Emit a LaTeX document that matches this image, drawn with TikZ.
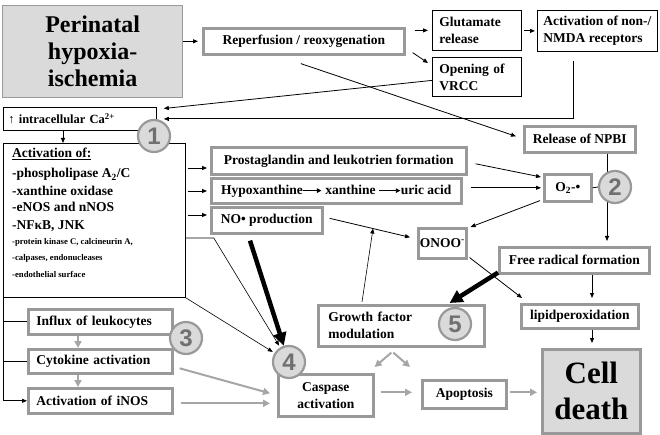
\documentclass[tikz,border=0pt]{standalone}
\usepackage{fontspec}
\setmainfont{Liberation Serif}
\newfontfamily\numfont{Liberation Sans}
\usetikzlibrary{arrows.meta,calc}
\definecolor{bgray}{HTML}{999999}
\definecolor{fgray}{HTML}{DADADA}
\definecolor{agray}{HTML}{A6A6A6}
\definecolor{ngray}{HTML}{707070}
\newcommand{\inarr}[1]{\tikz[x=1pt,y=1pt,baseline=-0.55ex]\draw[-{Triangle[length=4.5pt,width=4.5pt]},line width=0.9pt] (0,0) -- (#1,0);}
\begin{document}
\begin{tikzpicture}[x=1pt,y=-1pt,
  every node/.style={font=\bfseries\fontsize{13.5}{17}\selectfont, inner sep=0pt},
  thinbox/.style={draw=black, line width=0.8pt, fill=white, anchor=north west},
  gbox/.style={draw=bgray, line width=2.6pt, fill=white, anchor=north west},
  numc/.style={circle, draw=bgray, line width=2.2pt, fill=fgray, minimum size=32pt,
    font=\numfont\bfseries\fontsize{24}{24}\selectfont, text=ngray},
  arr/.style={-{Triangle[length=5pt,width=4pt]}, line width=0.8pt},
  garr/.style={-{Triangle[length=7pt,width=7pt]}, line width=2pt, agray},
  bigarr/.style={-{Triangle[length=13pt,width=13pt]}, line width=4.5pt},
  small/.style={font=\bfseries\fontsize{8.7}{10}\selectfont},
]
\useasboundingbox (0,0) rectangle (660,435);
\fill[white] (0,0) rectangle (660,435);

% ---- boxes ----
\node[draw=bgray, line width=1.2pt, fill=fgray, minimum width=180pt, minimum height=92pt,
  anchor=north west, align=center, font=\bfseries\fontsize{24}{27}\selectfont]
  (peri) at (2,5) {Perinatal\\hypoxia-\\ischemia};
\node[gbox, minimum width=201pt, minimum height=26pt] (rep) at (202,27) {Reperfusion / reoxygenation};
\node[thinbox, minimum height=40pt, text width=75pt, inner xsep=7pt, align=left] (glu) at (432,10) {Glutamate\\release};
\node[thinbox, minimum width=120pt, minimum height=41pt, align=left] (act) at (537,10) {Activation of non-/\\NMDA receptors};
\node[thinbox, minimum height=39pt, text width=75pt, inner xsep=7pt, align=left] (vrcc) at (432,57) {Opening of\\VRCC};
\node[thinbox, minimum height=23pt, text width=143pt, inner xsep=5pt, align=left,
  font=\bfseries\fontsize{12.5}{15}\selectfont] (ca) at (3,107) {↑ intracellular Ca\textsuperscript{2+}};

\node[thinbox, minimum width=182pt, minimum height=154pt] (actof) at (3,143) {};
\node[anchor=base west] (l1) at (12,158) {\underline{Activation of:}};
\node[anchor=base west] (l2) at (12,178) {-phospholipase A\textsubscript{2}/C};
\node[anchor=base west] (l3) at (12,196) {-xanthine oxidase};
\node[anchor=base west] (l4) at (12,212) {-eNOS and nNOS};
\node[anchor=base west] (l5) at (12,230) {-NFκB, JNK};
\node[anchor=base west, small] (l6) at (12,245) {-protein kinase C, calcineurin A,};
\node[anchor=base west, small] (l7) at (12,260) {-calpases, endonucleases};
\node[anchor=base west, small] (l8) at (12,277) {-endothelial surface};

\node[gbox, minimum width=255pt, minimum height=27pt] (pros) at (210,146) {Prostaglandin and leukotrien formation};
\node[gbox, minimum width=250pt, minimum height=25pt] (hypo) at (210,177) {Hypoxanthine\inarr{18} xanthine \inarr{21}uric acid};
\node[gbox, minimum width=111pt, minimum height=26pt] (no) at (210,206) {NO• production};
\node[gbox, minimum width=111pt, minimum height=26pt] (npbi) at (523,125) {Release of NPBI};
\node[gbox, minimum width=47pt, minimum height=27pt] (o2) at (543,173) {O\textsubscript{2}-•};
\node[gbox, minimum width=48pt, minimum height=30pt] (onoo) at (417,227) {ONOO\textsuperscript{-}};
\node[gbox, minimum width=150pt, minimum height=26pt] (free) at (498,246) {Free radical formation};
\node[gbox, minimum width=117pt, minimum height=24pt] (lipid) at (520,303) {lipidperoxidation};
\node[gbox, fill=fgray, minimum width=98pt, minimum height=84pt, align=center,
  font=\bfseries\fontsize{31}{36}\selectfont] (cell) at (541,348) {Cell\\death};
\node[gbox, minimum height=41pt, text width=146pt, inner xsep=10pt, align=left] (growth) at (317,304) {Growth factor\\modulation};
\node[gbox, minimum width=95pt, minimum height=42pt, align=center] (casp) at (277,373) {Caspase\\activation};
\node[gbox, minimum width=84pt, minimum height=28pt] (apop) at (421,379) {Apoptosis};
\node[gbox, minimum height=25pt, text width=128pt, inner xsep=8pt, align=left] (influx) at (27,308) {Influx of leukocytes};
\node[gbox, minimum height=24pt, text width=128pt, inner xsep=8pt, align=left] (cyto) at (27,348) {Cytokine activation};
\node[gbox, minimum height=25pt, text width=128pt, inner xsep=8pt, align=left] (inos) at (27,387) {Activation of iNOS};

% ---- thin black connectors ----
\draw[arr, shorten >=4pt] (peri.east |- rep.west) -- (rep.west);
\draw[arr, shorten <=9pt, shorten >=4pt] (rep.east |- glu.west) -- (glu.west);
\draw[arr] ($(rep.south east)+(7,-3)$) -- ($(vrcc.north west)+(-4,6)$);
\draw[arr, shorten <=2pt, shorten >=2pt] (glu.east |- act.west) -- (act.west);
\draw[arr] ($(vrcc.west)+(0,3.5)$) -- ($(ca.north east)+(7,1.5)$);
\draw[arr] ($(act.south west)+(36,9)$) |- ($(ca.east)+(7,0)$);
\draw[arr] ($(rep.south)+(-3,8)$) -- ($(npbi.west)+(-7,-3)$);
\draw[arr] ($(ca.south west)+(60,0)$) -- ($(actof.north west)+(60,0)$);

\draw[arr, shorten <=2pt, shorten >=3pt] (actof.east |- 0,168) -- (pros.west |- 0,168);
\draw[arr, shorten <=2pt, shorten >=3pt] (actof.east |- 0,191) -- (hypo.west |- 0,191);
\draw[arr, shorten <=2pt, shorten >=3pt] (actof.east |- 0,215) -- (no.west |- 0,215);

\coordinate (noS) at ($(no.east)+(6,-2)$);
\coordinate (noE) at ($(onoo.west)+(-7,-6)$);
\draw[arr] (noS) -- (noE);
\coordinate (gtip) at ($(noS)!0.54!(noE)$);
\draw[arr, line width=0.6pt] ($(growth.north west)+(45,-2)$) -- (gtip);

\draw[arr] ($(pros.east)+(8,3)$) -- ($(o2.north west)+(-2,4)$);
\draw[arr, shorten <=8pt, shorten >=2pt] (hypo.east |- o2.west) -- (o2.west);
\draw[arr] ($(o2.south west)+(-3,-2)$) -- ($(onoo.north east)+(3,0)$);
\draw[arr] ($(npbi.south west)+(84,0)$) -- ($(free.north west)+(109,-5)$);
\draw[arr] ($(onoo.south east)+(2,-2)$) -- ($(lipid.north west)+(2,-5)$);
\draw[arr] ($(free.south west)+(94,0)$) -- ($(lipid.north west)+(72,-5)$);
\draw[arr] ($(lipid.south west)+(72,0)$) -- ($(cell.north west)+(51,-5)$);

\draw[arr] (actof.south west) |- (inos.west);
\draw[line width=0.8pt] (actof.south west |- influx.west) -- (influx.west);
\draw[line width=0.8pt] (actof.south west |- cyto.west) -- (cyto.west);

% ---- gray connectors ----
\draw[garr] ($(influx.south west)+(51,0)$) -- ($(cyto.north west)+(51,0)$);
\draw[garr] ($(cyto.south west)+(51,0)$) -- ($(inos.north west)+(51,0)$);
\draw[garr] ($(cyto.east)+(6,7)$) -- ($(casp.west)+(-7,-2)$);
\draw[garr] ($(inos.east)+(7,2.5)$) -- ($(casp.west)+(-7,8)$);
\draw[garr] ($(growth.south)+(-10,5)$) -- ($(casp.north east)+(0,-6)$);
\draw[garr] ($(growth.south)+(-8,5)$) -- ($(apop.north west)+(-11,-12)$);
\draw[garr] ($(casp.east)+(6,-3)$) -- ($(apop.west)+(-9,-2)$);
\draw[garr] ($(apop.east)+(2,-2)$) -- ($(cell.west |- apop.east)+(-4,-2)$);

% ---- thick black ----
\draw[bigarr] ($(free.south west)+(0,-2)$) -- ($(growth.north east)+(-36,-1)$);

% ---- number circles ----
\node[numc] (c1) at (154,136) {1};
\node[numc] (c2) at (615,187) {2};
\node[numc] (c3) at (186,338) {3};
\node[numc] (c4) at (289,362) {4};
\node[numc] (c5) at (455,324) {5};

\draw[line width=0.8pt] (o2.east) -- (c2.west);
\draw[bigarr] ($(no.south west)+(40,6)$) -- (c4);
\coordinate (kink) at ($(actof.east |- 0,238)+(28,0)$);
\draw[arr, line width=0.6pt, shorten >=2pt] (actof.east |- 0,238) -- (kink) -- (c4);
\draw[arr, line width=0.6pt, shorten >=2pt] (actof.south east) -- (c4);
\end{tikzpicture}
\end{document}
